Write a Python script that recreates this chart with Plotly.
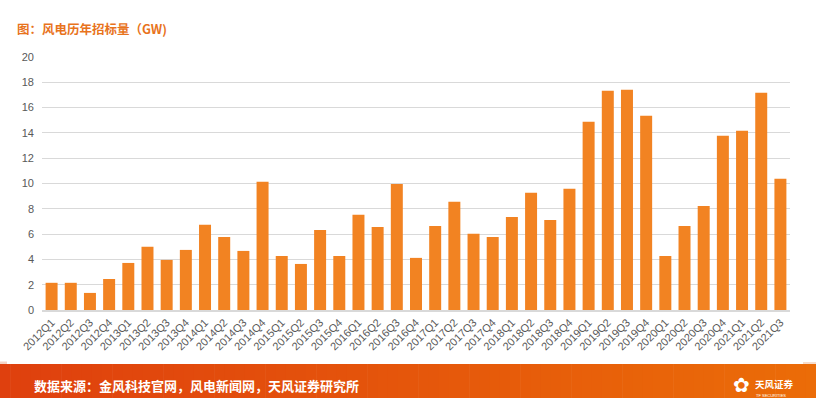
import plotly.graph_objects as go

quarters = ["2012Q1","2012Q2","2012Q3","2012Q4","2013Q1","2013Q2","2013Q3","2013Q4",
            "2014Q1","2014Q2","2014Q3","2014Q4","2015Q1","2015Q2","2015Q3","2015Q4",
            "2016Q1","2016Q2","2016Q3","2016Q4","2017Q1","2017Q2","2017Q3","2017Q4",
            "2018Q1","2018Q2","2018Q3","2018Q4","2019Q1","2019Q2","2019Q3","2019Q4",
            "2020Q1","2020Q2","2020Q3","2020Q4","2021Q1","2021Q2","2021Q3"]
bids_gw = [2.15, 2.15, 1.35, 2.45, 3.72, 5.0, 3.96, 4.75,
           6.73, 5.78, 4.67, 10.13, 4.27, 3.64, 6.33, 4.27,
           7.52, 6.57, 9.97, 4.12, 6.65, 8.55, 6.02, 5.78,
           7.36, 9.26, 7.12, 9.58, 14.88, 17.34, 17.41, 15.36,
           4.27, 6.65, 8.23, 13.77, 14.17, 17.18, 10.37]
y_ticks = [0, 2, 4, 6, 8, 10, 12, 14, 16, 18, 20]

W, H = 816, 398
L, R, T, B = 42, 26, 57, 88
PW, PH = W - L - R, H - T - B


def px(x):
    return (x - L) / PW


def py(y):
    return (H - B - y) / PH


fig = go.Figure()
fig.add_trace(go.Bar(x=quarters, y=bids_gw, marker=dict(color="#F28322", line=dict(width=0)),
                     hoverinfo="x+y"))

shapes = []
# footer gradient band
n = 80
c0 = (0xDF, 0x40, 0x0E)
c1 = (0xEB, 0x6C, 0x08)
for i in range(n):
    t = i / (n - 1)
    col = "rgb(%d,%d,%d)" % tuple(int(round(a + (b - a) * t)) for a, b in zip(c0, c1))
    xa = i * W / n
    xb = (i + 1) * W / n + 0.6
    shapes.append(dict(type="rect", xref="paper", yref="paper",
                       x0=px(xa), x1=px(xb), y0=py(H), y1=py(364),
                       fillcolor=col, line=dict(width=0), layer="above"))
shapes.append(dict(type="rect", xref="paper", yref="paper", x0=px(0), x1=px(7),
                   y0=py(364), y1=py(361.5), fillcolor="#F3D3C6", line=dict(width=0)))
shapes.append(dict(type="rect", xref="paper", yref="paper", x0=px(803), x1=px(816),
                   y0=py(364), y1=py(362), fillcolor="#F6DCCB", line=dict(width=0)))

annotations = [
    dict(text="<b>图：风电历年招标量（GW)</b>", x=px(15), y=py(29), xref="paper", yref="paper",
         xanchor="left", yanchor="middle", showarrow=False,
         font=dict(size=12.5, color="#E8731C", family="Noto Sans CJK SC")),
    dict(text="<b>数据来源：金风科技官网，风电新闻网，天风证券研究所</b>", x=px(32), y=py(385),
         xref="paper", yref="paper", xanchor="left", yanchor="middle", showarrow=False,
         font=dict(size=13, color="white", family="Noto Sans CJK SC")),
    dict(text="✿", x=px(741), y=py(385), xref="paper", yref="paper",
         xanchor="center", yanchor="middle", showarrow=False,
         font=dict(size=20, color="white", family="DejaVu Sans")),
    dict(text="<b>天风证券</b>", x=px(754), y=py(384), xref="paper", yref="paper",
         xanchor="left", yanchor="middle", showarrow=False, borderpad=0,
         font=dict(size=9.5, color="white", family="Noto Sans CJK SC")),
    dict(text="TF SECURITIES", x=px(755), y=py(395), xref="paper", yref="paper",
         xanchor="left", yanchor="middle", showarrow=False, borderpad=0,
         font=dict(size=4, color="white", family="Liberation Sans")),
]

fig.update_layout(
    width=W, height=H,
    margin=dict(l=L, r=R, t=T, b=B),
    paper_bgcolor="white", plot_bgcolor="white",
    bargap=0.375,
    showlegend=False,
    shapes=shapes,
    annotations=annotations,
    font=dict(family="Liberation Sans", color="#595959"),
    xaxis=dict(tickangle=-45, tickfont=dict(size=11, color="#595959"),
               showline=True, linecolor="#D9D9D9", linewidth=1.5, ticks="",
               showgrid=False, automargin=False),
    yaxis=dict(range=[0, 20], tickvals=y_ticks, tickfont=dict(size=11, color="#595959"),
               showgrid=True, gridcolor="#D9D9D9", gridwidth=1, zeroline=False,
               showline=False, ticks="", ticklabelstandoff=7, automargin=False),
)
fig.write_html("out.html", config={"displayModeBar": False},
               post_script="document.body.style.margin='0';document.body.style.padding='0';document.body.style.overflow='hidden';")
